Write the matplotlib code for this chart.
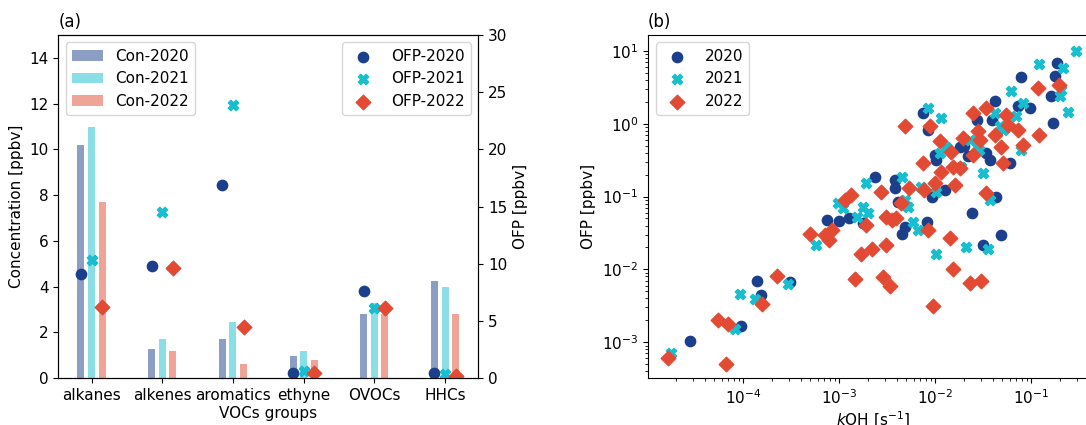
import numpy as np
import matplotlib
matplotlib.use('Agg')
import matplotlib.pyplot as plt

# panel (a): VOC group concentrations and OFP
groups = ['alkanes', 'alkenes', 'aromatics', 'ethyne', 'OVOCs', 'HHCs']
con_2020 = [10.18, 1.27, 1.72, 0.98, 2.80, 4.26]
con_2021 = [10.98, 1.72, 2.44, 1.20, 3.30, 3.97]
con_2022 = [7.69, 1.17, 0.61, 0.80, 2.80, 2.80]
ofp_2020 = [9.10, 9.78, 16.9, 0.50, 7.59, 0.44]
ofp_2021 = [10.36, 14.5, 23.87, 0.64, 6.13, 0.35]
ofp_2022 = [6.22, 9.63, 4.52, 0.44, 6.13, 0.23]

# panel (b): kOH vs OFP for individual species
koh_2020 = [2.78e-5, 9.5e-5, 1.41e-4, 1.53e-4, 3.06e-4, 7.4e-4, 1.0e-3, 1.27e-3,
            1.78e-3, 2.36e-3, 3.8e-3, 3.8e-3, 4.06e-3, 4.47e-3, 4.83e-3, 7.5e-3,
            8.45e-3, 8.26e-3, 9.3e-3, 9.93e-3, 0.0103, 0.0128, 0.0181, 0.0245,
            0.027, 0.0316, 0.0343, 0.037, 0.0419, 0.0436, 0.0491, 0.060, 0.0794,
            0.0733, 0.0968, 0.169, 0.163, 0.177, 0.188, 0.0387, 0.020, 0.022]
ofp_b_2020 = [1.05e-3, 1.69e-3, 7.0e-3, 4.4e-3, 6.8e-3, 0.0474, 0.0459, 0.050,
              0.0427, 0.184, 0.169, 0.130, 0.085, 0.031, 0.038, 1.40,
              0.826, 0.045, 0.0995, 0.373, 0.318, 0.123, 0.486, 0.0586,
              1.135, 0.0214, 0.394, 0.318, 2.03, 0.0995, 0.0294, 0.286, 4.41,
              1.73, 1.64, 1.02, 2.38, 4.5, 6.87, 1.135, 0.5, 0.36]
koh_2021 = [1.79e-5, 8.2e-5, 9.2e-5, 1.32e-4, 2.94e-4, 5.8e-4, 9.8e-4, 1.1e-3,
            1.52e-3, 1.78e-3, 1.93e-3, 2.0e-3, 4.47e-3, 4.83e-3, 5.24e-3, 5.9e-3,
            6.65e-3, 7.2e-3, 8.45e-3, 0.0103, 0.0103, 0.0112, 0.0116, 0.0131,
            0.0208, 0.023, 0.027, 0.0316, 0.0356, 0.037, 0.0419, 0.051, 0.0624,
            0.0703, 0.0794, 0.0826, 0.121, 0.199, 0.207, 0.215, 0.243, 0.296,
            0.029, 0.0188, 0.047]
ofp_b_2021 = [7.2e-4, 1.52e-3, 4.6e-3, 3.9e-3, 6.3e-3, 0.0214, 0.0805, 0.0687,
              0.0527, 0.0724, 0.152, 0.0586, 0.188, 0.0895, 0.0724, 0.045,
              0.0345, 0.137, 1.64, 0.117, 0.0164, 0.394, 1.20, 0.486,
              0.0203, 0.60, 0.486, 0.209, 0.0193, 0.0895, 1.40, 0.826, 2.79,
              1.26, 0.438, 1.93, 6.65, 2.38, 2.94, 5.86, 1.43, 9.95,
              0.44, 0.258, 0.92]
koh_2022 = [1.66e-5, 5.5e-5, 7.0e-5, 6.6e-5, 1.58e-4, 2.28e-4, 5.0e-4, 7.1e-4,
            7.9e-4, 8.5e-4, 1.15e-3, 1.34e-3, 1.46e-3, 1.71e-3, 1.93e-3, 2.22e-3,
            2.76e-3, 2.87e-3, 3.06e-3, 3.11e-3, 3.37e-3, 3.6e-3, 3.95e-3, 4.46e-3,
            4.83e-3, 5.36e-3, 7.5e-3, 7.6e-3, 8.45e-3, 8.8e-3, 9.5e-3, 9.93e-3,
            0.0112, 0.0116, 0.0148, 0.0154, 0.016, 0.0154, 0.0142, 0.0181,
            0.0196, 0.023, 0.0249, 0.0249, 0.028, 0.0292, 0.0304, 0.0343,
            0.0343, 0.0419, 0.0491, 0.051, 0.0553, 0.0575, 0.0733, 0.0826,
            0.118, 0.121, 0.196]
ofp_b_2022 = [6.05e-4, 2.02e-3, 1.78e-3, 5.1e-4, 3.36e-3, 8.0e-3, 0.031, 0.0294,
              0.0251, 0.0345, 0.0895, 0.105, 7.4e-3, 0.0164, 0.0405, 0.0193,
              0.117, 7.8e-3, 0.0527, 0.0214, 6.0e-3, 0.0474, 0.050, 0.0805,
              0.918, 0.130, 0.286, 0.123, 0.0345, 0.918, 3.1e-3, 0.155,
              0.57, 0.22, 0.415, 0.258, 0.144, 0.0102, 0.0273, 0.245,
              0.634, 6.5e-3, 1.40, 0.373, 0.783, 0.60, 7.0e-3, 0.111,
              1.64, 0.705, 0.486, 0.286, 1.33, 0.968, 0.826, 0.513,
              3.10, 0.705, 3.38]

c20 = '#1c3f8c'
c21 = '#17becf'
c22 = '#e24a33'

plt.rcParams['font.size'] = 11
fig = plt.figure(figsize=(10.86, 4.25), dpi=100)

# ---- (a)
ax = fig.add_axes([0.0537, 0.11, 0.3867, 0.808])
x = np.arange(len(groups))
w = 0.1
off = 0.15
ax.bar(x - off, con_2020, w, color=c20, alpha=0.5, label='Con-2020')
ax.bar(x, con_2021, w, color=c21, alpha=0.5, label='Con-2021')
ax.bar(x + off, con_2022, w, color=c22, alpha=0.5, label='Con-2022')
ax.set_ylim(0, 15)
ax.set_xticks(x)
ax.set_xticklabels(groups)
ax.set_ylabel('Concentration [ppbv]')
ax.set_xlabel('VOCs groups', labelpad=2)
ax.set_title('(a)', loc='left', fontsize=12)
ax.legend(loc='upper left')

ax2 = ax.twinx()
ax2.scatter(x - off, ofp_2020, s=55, marker='o', color=c20, label='OFP-2020')
ax2.scatter(x, ofp_2021, s=55, marker='X', color=c21, label='OFP-2021')
ax2.scatter(x + off, ofp_2022, s=55, marker='D', color=c22, label='OFP-2022')
ax2.set_ylim(0, 30)
ax2.set_ylabel('OFP [ppbv]')
ax2.legend(loc='upper right')

# ---- (b)
bx = fig.add_axes([0.5967, 0.11, 0.4153, 0.808])
bx.scatter(koh_2020, ofp_b_2020, s=55, marker='o', color=c20, label='2020')
bx.scatter(koh_2021, ofp_b_2021, s=55, marker='X', color=c21, label='2021')
bx.scatter(koh_2022, ofp_b_2022, s=55, marker='D', color=c22, label='2022')
bx.set_xscale('log')
bx.set_yscale('log')
bx.set_xlim(1.023e-5, 0.51)
bx.set_ylim(3.2e-4, 16.6)
bx.set_xlabel('$k$OH [s$^{-1}$]', labelpad=2)
bx.set_ylabel('OFP [ppbv]')
bx.set_title('(b)', loc='left', fontsize=12)
bx.legend(loc='upper left')

fig.savefig('out.png', dpi=100)
